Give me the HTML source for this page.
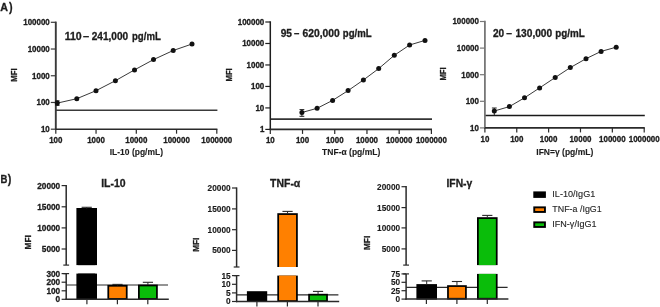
<!DOCTYPE html>
<html><head><meta charset="utf-8"><style>
html,body{margin:0;padding:0;background:#fff;width:660px;height:307px;overflow:hidden;}
svg{display:block;font-family:"Liberation Sans",sans-serif;will-change:transform;}
</style></head><body>
<svg width="660" height="307" viewBox="0 0 660 307">
<rect width="660" height="307" fill="#fff"/>
<text x="0.30" y="10.90" font-size="11.8" font-weight="bold" text-anchor="start" fill="#1c1c1c" font-family="Liberation Sans" stroke="#1c1c1c" stroke-width="0.35" textLength="7.7" lengthAdjust="spacingAndGlyphs" >A</text>
<text x="9.00" y="11.00" font-size="13.0" font-weight="bold" text-anchor="start" fill="#1c1c1c" font-family="Liberation Sans" stroke="#1c1c1c" stroke-width="0.3" textLength="3.6" lengthAdjust="spacingAndGlyphs" >)</text>
<text x="0.40" y="182.60" font-size="11.8" font-weight="bold" text-anchor="start" fill="#1c1c1c" font-family="Liberation Sans" stroke="#1c1c1c" stroke-width="0.35" textLength="6.9" lengthAdjust="spacingAndGlyphs" >B</text>
<text x="7.80" y="182.50" font-size="13.0" font-weight="bold" text-anchor="start" fill="#1c1c1c" font-family="Liberation Sans" stroke="#1c1c1c" stroke-width="0.3" textLength="3.6" lengthAdjust="spacingAndGlyphs" >)</text>
<line x1="55.80" y1="110.20" x2="217.40" y2="110.20" stroke="#3a3a3a" stroke-width="1.5" stroke-linecap="butt"/>
<line x1="55.80" y1="21.60" x2="55.80" y2="129.20" stroke="#3a3a3a" stroke-width="1.9" stroke-linecap="butt"/>
<line x1="55.10" y1="129.20" x2="217.40" y2="129.20" stroke="#2a2a2a" stroke-width="1.6" stroke-linecap="butt"/>
<line x1="50.80" y1="22.30" x2="55.80" y2="22.30" stroke="#3a3a3a" stroke-width="1.2" stroke-linecap="butt"/>
<text x="49.80" y="25.20" font-size="8.3" font-weight="bold" text-anchor="end" fill="#1c1c1c" font-family="Liberation Sans" stroke="#1c1c1c" stroke-width="0.3" textLength="26.52" lengthAdjust="spacingAndGlyphs" >100000</text>
<line x1="50.80" y1="49.02" x2="55.80" y2="49.02" stroke="#3a3a3a" stroke-width="1.2" stroke-linecap="butt"/>
<text x="49.80" y="51.92" font-size="8.3" font-weight="bold" text-anchor="end" fill="#1c1c1c" font-family="Liberation Sans" stroke="#1c1c1c" stroke-width="0.3" textLength="22.1" lengthAdjust="spacingAndGlyphs" >10000</text>
<line x1="50.80" y1="75.75" x2="55.80" y2="75.75" stroke="#3a3a3a" stroke-width="1.2" stroke-linecap="butt"/>
<text x="49.80" y="78.65" font-size="8.3" font-weight="bold" text-anchor="end" fill="#1c1c1c" font-family="Liberation Sans" stroke="#1c1c1c" stroke-width="0.3" textLength="17.68" lengthAdjust="spacingAndGlyphs" >1000</text>
<line x1="50.80" y1="102.47" x2="55.80" y2="102.47" stroke="#3a3a3a" stroke-width="1.2" stroke-linecap="butt"/>
<text x="49.80" y="105.38" font-size="8.3" font-weight="bold" text-anchor="end" fill="#1c1c1c" font-family="Liberation Sans" stroke="#1c1c1c" stroke-width="0.3" textLength="13.26" lengthAdjust="spacingAndGlyphs" >100</text>
<line x1="50.80" y1="129.20" x2="55.80" y2="129.20" stroke="#3a3a3a" stroke-width="1.2" stroke-linecap="butt"/>
<text x="49.80" y="132.10" font-size="8.3" font-weight="bold" text-anchor="end" fill="#1c1c1c" font-family="Liberation Sans" stroke="#1c1c1c" stroke-width="0.3" textLength="8.84" lengthAdjust="spacingAndGlyphs" >10</text>
<line x1="55.80" y1="129.20" x2="55.80" y2="133.70" stroke="#2a2a2a" stroke-width="1.2" stroke-linecap="butt"/>
<text x="55.80" y="142.80" font-size="8.3" font-weight="bold" text-anchor="middle" fill="#1c1c1c" font-family="Liberation Sans" stroke="#1c1c1c" stroke-width="0.3" textLength="13.26" lengthAdjust="spacingAndGlyphs" >100</text>
<line x1="96.05" y1="129.20" x2="96.05" y2="133.70" stroke="#2a2a2a" stroke-width="1.2" stroke-linecap="butt"/>
<text x="96.05" y="142.80" font-size="8.3" font-weight="bold" text-anchor="middle" fill="#1c1c1c" font-family="Liberation Sans" stroke="#1c1c1c" stroke-width="0.3" textLength="17.68" lengthAdjust="spacingAndGlyphs" >1000</text>
<line x1="136.30" y1="129.20" x2="136.30" y2="133.70" stroke="#2a2a2a" stroke-width="1.2" stroke-linecap="butt"/>
<text x="136.30" y="142.80" font-size="8.3" font-weight="bold" text-anchor="middle" fill="#1c1c1c" font-family="Liberation Sans" stroke="#1c1c1c" stroke-width="0.3" textLength="22.1" lengthAdjust="spacingAndGlyphs" >10000</text>
<line x1="176.55" y1="129.20" x2="176.55" y2="133.70" stroke="#2a2a2a" stroke-width="1.2" stroke-linecap="butt"/>
<text x="176.55" y="142.80" font-size="8.3" font-weight="bold" text-anchor="middle" fill="#1c1c1c" font-family="Liberation Sans" stroke="#1c1c1c" stroke-width="0.3" textLength="26.52" lengthAdjust="spacingAndGlyphs" >100000</text>
<line x1="216.80" y1="129.20" x2="216.80" y2="133.70" stroke="#2a2a2a" stroke-width="1.2" stroke-linecap="butt"/>
<text x="216.80" y="142.80" font-size="8.3" font-weight="bold" text-anchor="middle" fill="#1c1c1c" font-family="Liberation Sans" stroke="#1c1c1c" stroke-width="0.3" textLength="30.94" lengthAdjust="spacingAndGlyphs" >1000000</text>
<line x1="57.30" y1="100.80" x2="57.30" y2="105.40" stroke="#222" stroke-width="1.0" stroke-linecap="butt"/>
<line x1="55.10" y1="100.80" x2="59.50" y2="100.80" stroke="#222" stroke-width="1.0" stroke-linecap="butt"/>
<line x1="55.10" y1="105.40" x2="59.50" y2="105.40" stroke="#222" stroke-width="1.0" stroke-linecap="butt"/>
<polyline points="57.30,103.10 76.80,98.70 96.00,90.70 115.40,80.70 134.50,69.90 153.50,59.60 173.20,50.50 192.00,44.00" fill="none" stroke="#222" stroke-width="0.9" stroke-linejoin="round"/>
<circle cx="57.30" cy="103.10" r="2.5" fill="#111"/>
<circle cx="76.80" cy="98.70" r="2.5" fill="#111"/>
<circle cx="96.00" cy="90.70" r="2.5" fill="#111"/>
<circle cx="115.40" cy="80.70" r="2.5" fill="#111"/>
<circle cx="134.50" cy="69.90" r="2.5" fill="#111"/>
<circle cx="153.50" cy="59.60" r="2.5" fill="#111"/>
<circle cx="173.20" cy="50.50" r="2.5" fill="#111"/>
<circle cx="192.00" cy="44.00" r="2.5" fill="#111"/>
<text x="64.70" y="39.80" font-size="10.2" font-weight="bold" text-anchor="start" fill="#1c1c1c" font-family="Liberation Sans" stroke="#1c1c1c" stroke-width="0.3" textLength="17.0" lengthAdjust="spacingAndGlyphs" >110</text>
<text x="82.90" y="39.80" font-size="10.2" font-weight="bold" text-anchor="start" fill="#1c1c1c" font-family="Liberation Sans" stroke="#1c1c1c" stroke-width="0.3" textLength="6.1" lengthAdjust="spacingAndGlyphs" >–</text>
<text x="91.70" y="39.80" font-size="10.2" font-weight="bold" text-anchor="start" fill="#1c1c1c" font-family="Liberation Sans" stroke="#1c1c1c" stroke-width="0.3" textLength="36.4" lengthAdjust="spacingAndGlyphs" >241,000</text>
<text x="132.00" y="39.80" font-size="10.2" font-weight="bold" text-anchor="start" fill="#1c1c1c" font-family="Liberation Sans" stroke="#1c1c1c" stroke-width="0.3" textLength="28.8" lengthAdjust="spacingAndGlyphs" >pg/mL</text>
<text x="136.40" y="155.40" font-size="8.6" font-weight="bold" text-anchor="middle" fill="#1c1c1c" font-family="Liberation Sans" stroke="#1c1c1c" stroke-width="0.1" textLength="53.3" lengthAdjust="spacingAndGlyphs" >IL-10 (pg/mL)</text>
<text x="16.90" y="75.00" font-size="8.8" font-weight="bold" text-anchor="middle" fill="#1c1c1c" font-family="Liberation Sans" stroke="#1c1c1c" stroke-width="0.3" textLength="13.3" lengthAdjust="spacingAndGlyphs" transform="rotate(-90 16.90 75.00)" >MFI</text>
<line x1="270.30" y1="119.10" x2="432.00" y2="119.10" stroke="#333" stroke-width="1.6" stroke-linecap="butt"/>
<line x1="270.30" y1="21.30" x2="270.30" y2="129.40" stroke="#1e1e1e" stroke-width="1.5" stroke-linecap="butt"/>
<line x1="269.60" y1="129.40" x2="432.00" y2="129.40" stroke="#2a2a2a" stroke-width="1.6" stroke-linecap="butt"/>
<line x1="265.30" y1="22.00" x2="270.30" y2="22.00" stroke="#1e1e1e" stroke-width="1.2" stroke-linecap="butt"/>
<text x="264.30" y="24.90" font-size="8.3" font-weight="bold" text-anchor="end" fill="#1c1c1c" font-family="Liberation Sans" stroke="#1c1c1c" stroke-width="0.3" textLength="26.52" lengthAdjust="spacingAndGlyphs" >100000</text>
<line x1="265.30" y1="43.48" x2="270.30" y2="43.48" stroke="#1e1e1e" stroke-width="1.2" stroke-linecap="butt"/>
<text x="264.30" y="46.38" font-size="8.3" font-weight="bold" text-anchor="end" fill="#1c1c1c" font-family="Liberation Sans" stroke="#1c1c1c" stroke-width="0.3" textLength="22.1" lengthAdjust="spacingAndGlyphs" >10000</text>
<line x1="265.30" y1="64.96" x2="270.30" y2="64.96" stroke="#1e1e1e" stroke-width="1.2" stroke-linecap="butt"/>
<text x="264.30" y="67.86" font-size="8.3" font-weight="bold" text-anchor="end" fill="#1c1c1c" font-family="Liberation Sans" stroke="#1c1c1c" stroke-width="0.3" textLength="17.68" lengthAdjust="spacingAndGlyphs" >1000</text>
<line x1="265.30" y1="86.44" x2="270.30" y2="86.44" stroke="#1e1e1e" stroke-width="1.2" stroke-linecap="butt"/>
<text x="264.30" y="89.34" font-size="8.3" font-weight="bold" text-anchor="end" fill="#1c1c1c" font-family="Liberation Sans" stroke="#1c1c1c" stroke-width="0.3" textLength="13.26" lengthAdjust="spacingAndGlyphs" >100</text>
<line x1="265.30" y1="107.92" x2="270.30" y2="107.92" stroke="#1e1e1e" stroke-width="1.2" stroke-linecap="butt"/>
<text x="264.30" y="110.82" font-size="8.3" font-weight="bold" text-anchor="end" fill="#1c1c1c" font-family="Liberation Sans" stroke="#1c1c1c" stroke-width="0.3" textLength="8.84" lengthAdjust="spacingAndGlyphs" >10</text>
<line x1="265.30" y1="129.40" x2="270.30" y2="129.40" stroke="#1e1e1e" stroke-width="1.2" stroke-linecap="butt"/>
<text x="264.30" y="132.30" font-size="8.3" font-weight="bold" text-anchor="end" fill="#1c1c1c" font-family="Liberation Sans" stroke="#1c1c1c" stroke-width="0.3" textLength="4.42" lengthAdjust="spacingAndGlyphs" >1</text>
<line x1="270.30" y1="129.40" x2="270.30" y2="133.90" stroke="#2a2a2a" stroke-width="1.2" stroke-linecap="butt"/>
<text x="270.30" y="143.00" font-size="8.3" font-weight="bold" text-anchor="middle" fill="#1c1c1c" font-family="Liberation Sans" stroke="#1c1c1c" stroke-width="0.3" textLength="8.84" lengthAdjust="spacingAndGlyphs" >10</text>
<line x1="302.52" y1="129.40" x2="302.52" y2="133.90" stroke="#2a2a2a" stroke-width="1.2" stroke-linecap="butt"/>
<text x="302.52" y="143.00" font-size="8.3" font-weight="bold" text-anchor="middle" fill="#1c1c1c" font-family="Liberation Sans" stroke="#1c1c1c" stroke-width="0.3" textLength="13.26" lengthAdjust="spacingAndGlyphs" >100</text>
<line x1="334.74" y1="129.40" x2="334.74" y2="133.90" stroke="#2a2a2a" stroke-width="1.2" stroke-linecap="butt"/>
<text x="334.74" y="143.00" font-size="8.3" font-weight="bold" text-anchor="middle" fill="#1c1c1c" font-family="Liberation Sans" stroke="#1c1c1c" stroke-width="0.3" textLength="17.68" lengthAdjust="spacingAndGlyphs" >1000</text>
<line x1="366.96" y1="129.40" x2="366.96" y2="133.90" stroke="#2a2a2a" stroke-width="1.2" stroke-linecap="butt"/>
<text x="366.96" y="143.00" font-size="8.3" font-weight="bold" text-anchor="middle" fill="#1c1c1c" font-family="Liberation Sans" stroke="#1c1c1c" stroke-width="0.3" textLength="22.1" lengthAdjust="spacingAndGlyphs" >10000</text>
<line x1="399.18" y1="129.40" x2="399.18" y2="133.90" stroke="#2a2a2a" stroke-width="1.2" stroke-linecap="butt"/>
<text x="399.18" y="143.00" font-size="8.3" font-weight="bold" text-anchor="middle" fill="#1c1c1c" font-family="Liberation Sans" stroke="#1c1c1c" stroke-width="0.3" textLength="26.52" lengthAdjust="spacingAndGlyphs" >100000</text>
<line x1="431.40" y1="129.40" x2="431.40" y2="133.90" stroke="#2a2a2a" stroke-width="1.2" stroke-linecap="butt"/>
<text x="431.40" y="143.00" font-size="8.3" font-weight="bold" text-anchor="middle" fill="#1c1c1c" font-family="Liberation Sans" stroke="#1c1c1c" stroke-width="0.3" textLength="30.94" lengthAdjust="spacingAndGlyphs" >1000000</text>
<line x1="301.90" y1="109.60" x2="301.90" y2="116.30" stroke="#222" stroke-width="1.0" stroke-linecap="butt"/>
<line x1="299.50" y1="109.60" x2="304.30" y2="109.60" stroke="#222" stroke-width="1.0" stroke-linecap="butt"/>
<line x1="299.50" y1="116.30" x2="304.30" y2="116.30" stroke="#222" stroke-width="1.0" stroke-linecap="butt"/>
<polyline points="301.90,112.50 317.10,108.30 332.60,100.40 348.10,90.60 363.40,80.00 378.70,68.60 394.30,55.30 409.60,45.00 425.00,40.40" fill="none" stroke="#222" stroke-width="0.9" stroke-linejoin="round"/>
<circle cx="301.90" cy="112.50" r="2.5" fill="#111"/>
<circle cx="317.10" cy="108.30" r="2.5" fill="#111"/>
<circle cx="332.60" cy="100.40" r="2.5" fill="#111"/>
<circle cx="348.10" cy="90.60" r="2.5" fill="#111"/>
<circle cx="363.40" cy="80.00" r="2.5" fill="#111"/>
<circle cx="378.70" cy="68.60" r="2.5" fill="#111"/>
<circle cx="394.30" cy="55.30" r="2.5" fill="#111"/>
<circle cx="409.60" cy="45.00" r="2.5" fill="#111"/>
<circle cx="425.00" cy="40.40" r="2.5" fill="#111"/>
<text x="280.70" y="36.50" font-size="10.2" font-weight="bold" text-anchor="start" fill="#1c1c1c" font-family="Liberation Sans" stroke="#1c1c1c" stroke-width="0.3" textLength="11.3" lengthAdjust="spacingAndGlyphs" >95</text>
<text x="293.90" y="36.50" font-size="10.2" font-weight="bold" text-anchor="start" fill="#1c1c1c" font-family="Liberation Sans" stroke="#1c1c1c" stroke-width="0.3" textLength="5.3" lengthAdjust="spacingAndGlyphs" >–</text>
<text x="302.60" y="36.50" font-size="10.2" font-weight="bold" text-anchor="start" fill="#1c1c1c" font-family="Liberation Sans" stroke="#1c1c1c" stroke-width="0.3" textLength="37.2" lengthAdjust="spacingAndGlyphs" >620,000</text>
<text x="342.80" y="36.50" font-size="10.2" font-weight="bold" text-anchor="start" fill="#1c1c1c" font-family="Liberation Sans" stroke="#1c1c1c" stroke-width="0.3" textLength="28.8" lengthAdjust="spacingAndGlyphs" >pg/mL</text>
<text x="351.20" y="155.30" font-size="8.6" font-weight="bold" text-anchor="middle" fill="#1c1c1c" font-family="Liberation Sans" stroke="#1c1c1c" stroke-width="0.1" textLength="58.2" lengthAdjust="spacingAndGlyphs" >TNF-α (pg/mL)</text>
<text x="231.90" y="74.90" font-size="8.8" font-weight="bold" text-anchor="middle" fill="#1c1c1c" font-family="Liberation Sans" stroke="#1c1c1c" stroke-width="0.3" textLength="13.3" lengthAdjust="spacingAndGlyphs" transform="rotate(-90 231.90 74.90)" >MFI</text>
<line x1="484.90" y1="115.50" x2="644.80" y2="115.50" stroke="#1a1a1a" stroke-width="1.5" stroke-linecap="butt"/>
<line x1="484.90" y1="20.80" x2="484.90" y2="127.90" stroke="#777" stroke-width="1.8" stroke-linecap="butt"/>
<line x1="484.20" y1="127.90" x2="644.80" y2="127.90" stroke="#2a2a2a" stroke-width="1.6" stroke-linecap="butt"/>
<line x1="479.90" y1="21.50" x2="484.90" y2="21.50" stroke="#777" stroke-width="1.2" stroke-linecap="butt"/>
<text x="478.90" y="24.40" font-size="8.3" font-weight="bold" text-anchor="end" fill="#1c1c1c" font-family="Liberation Sans" stroke="#1c1c1c" stroke-width="0.3" textLength="26.52" lengthAdjust="spacingAndGlyphs" >100000</text>
<line x1="479.90" y1="48.10" x2="484.90" y2="48.10" stroke="#777" stroke-width="1.2" stroke-linecap="butt"/>
<text x="478.90" y="51.00" font-size="8.3" font-weight="bold" text-anchor="end" fill="#1c1c1c" font-family="Liberation Sans" stroke="#1c1c1c" stroke-width="0.3" textLength="22.1" lengthAdjust="spacingAndGlyphs" >10000</text>
<line x1="479.90" y1="74.70" x2="484.90" y2="74.70" stroke="#777" stroke-width="1.2" stroke-linecap="butt"/>
<text x="478.90" y="77.60" font-size="8.3" font-weight="bold" text-anchor="end" fill="#1c1c1c" font-family="Liberation Sans" stroke="#1c1c1c" stroke-width="0.3" textLength="17.68" lengthAdjust="spacingAndGlyphs" >1000</text>
<line x1="479.90" y1="101.30" x2="484.90" y2="101.30" stroke="#777" stroke-width="1.2" stroke-linecap="butt"/>
<text x="478.90" y="104.20" font-size="8.3" font-weight="bold" text-anchor="end" fill="#1c1c1c" font-family="Liberation Sans" stroke="#1c1c1c" stroke-width="0.3" textLength="13.26" lengthAdjust="spacingAndGlyphs" >100</text>
<line x1="479.90" y1="127.90" x2="484.90" y2="127.90" stroke="#777" stroke-width="1.2" stroke-linecap="butt"/>
<text x="478.90" y="130.80" font-size="8.3" font-weight="bold" text-anchor="end" fill="#1c1c1c" font-family="Liberation Sans" stroke="#1c1c1c" stroke-width="0.3" textLength="8.84" lengthAdjust="spacingAndGlyphs" >10</text>
<line x1="484.90" y1="127.90" x2="484.90" y2="132.40" stroke="#2a2a2a" stroke-width="1.2" stroke-linecap="butt"/>
<text x="484.90" y="141.50" font-size="8.3" font-weight="bold" text-anchor="middle" fill="#1c1c1c" font-family="Liberation Sans" stroke="#1c1c1c" stroke-width="0.3" textLength="8.84" lengthAdjust="spacingAndGlyphs" >10</text>
<line x1="516.76" y1="127.90" x2="516.76" y2="132.40" stroke="#2a2a2a" stroke-width="1.2" stroke-linecap="butt"/>
<text x="516.76" y="141.50" font-size="8.3" font-weight="bold" text-anchor="middle" fill="#1c1c1c" font-family="Liberation Sans" stroke="#1c1c1c" stroke-width="0.3" textLength="13.26" lengthAdjust="spacingAndGlyphs" >100</text>
<line x1="548.62" y1="127.90" x2="548.62" y2="132.40" stroke="#2a2a2a" stroke-width="1.2" stroke-linecap="butt"/>
<text x="548.62" y="141.50" font-size="8.3" font-weight="bold" text-anchor="middle" fill="#1c1c1c" font-family="Liberation Sans" stroke="#1c1c1c" stroke-width="0.3" textLength="17.68" lengthAdjust="spacingAndGlyphs" >1000</text>
<line x1="580.48" y1="127.90" x2="580.48" y2="132.40" stroke="#2a2a2a" stroke-width="1.2" stroke-linecap="butt"/>
<text x="580.48" y="141.50" font-size="8.3" font-weight="bold" text-anchor="middle" fill="#1c1c1c" font-family="Liberation Sans" stroke="#1c1c1c" stroke-width="0.3" textLength="22.1" lengthAdjust="spacingAndGlyphs" >10000</text>
<line x1="612.34" y1="127.90" x2="612.34" y2="132.40" stroke="#2a2a2a" stroke-width="1.2" stroke-linecap="butt"/>
<text x="612.34" y="141.50" font-size="8.3" font-weight="bold" text-anchor="middle" fill="#1c1c1c" font-family="Liberation Sans" stroke="#1c1c1c" stroke-width="0.3" textLength="26.52" lengthAdjust="spacingAndGlyphs" >100000</text>
<line x1="644.20" y1="127.90" x2="644.20" y2="132.40" stroke="#2a2a2a" stroke-width="1.2" stroke-linecap="butt"/>
<text x="644.20" y="141.50" font-size="8.3" font-weight="bold" text-anchor="middle" fill="#1c1c1c" font-family="Liberation Sans" stroke="#1c1c1c" stroke-width="0.3" textLength="30.94" lengthAdjust="spacingAndGlyphs" >1000000</text>
<line x1="494.30" y1="108.00" x2="494.30" y2="115.00" stroke="#222" stroke-width="1.0" stroke-linecap="butt"/>
<line x1="491.90" y1="108.00" x2="496.70" y2="108.00" stroke="#222" stroke-width="1.0" stroke-linecap="butt"/>
<polyline points="494.30,111.00 509.40,106.60 524.50,97.80 539.60,87.90 555.20,77.50 570.30,67.60 586.00,58.70 601.10,51.40 616.20,47.20" fill="none" stroke="#222" stroke-width="0.9" stroke-linejoin="round"/>
<circle cx="494.30" cy="111.00" r="2.5" fill="#111"/>
<circle cx="509.40" cy="106.60" r="2.5" fill="#111"/>
<circle cx="524.50" cy="97.80" r="2.5" fill="#111"/>
<circle cx="539.60" cy="87.90" r="2.5" fill="#111"/>
<circle cx="555.20" cy="77.50" r="2.5" fill="#111"/>
<circle cx="570.30" cy="67.60" r="2.5" fill="#111"/>
<circle cx="586.00" cy="58.70" r="2.5" fill="#111"/>
<circle cx="601.10" cy="51.40" r="2.5" fill="#111"/>
<circle cx="616.20" cy="47.20" r="2.5" fill="#111"/>
<text x="493.00" y="36.70" font-size="10.2" font-weight="bold" text-anchor="start" fill="#1c1c1c" font-family="Liberation Sans" stroke="#1c1c1c" stroke-width="0.3" textLength="11.2" lengthAdjust="spacingAndGlyphs" >20</text>
<text x="506.30" y="36.70" font-size="10.2" font-weight="bold" text-anchor="start" fill="#1c1c1c" font-family="Liberation Sans" stroke="#1c1c1c" stroke-width="0.3" textLength="5.7" lengthAdjust="spacingAndGlyphs" >–</text>
<text x="515.40" y="36.70" font-size="10.2" font-weight="bold" text-anchor="start" fill="#1c1c1c" font-family="Liberation Sans" stroke="#1c1c1c" stroke-width="0.3" textLength="36.8" lengthAdjust="spacingAndGlyphs" >130,000</text>
<text x="555.20" y="36.70" font-size="10.2" font-weight="bold" text-anchor="start" fill="#1c1c1c" font-family="Liberation Sans" stroke="#1c1c1c" stroke-width="0.3" textLength="29.5" lengthAdjust="spacingAndGlyphs" >pg/mL</text>
<text x="564.80" y="155.30" font-size="8.6" font-weight="bold" text-anchor="middle" fill="#1c1c1c" font-family="Liberation Sans" stroke="#1c1c1c" stroke-width="0.1" textLength="57.0" lengthAdjust="spacingAndGlyphs" >IFN=γ (pg/mL)</text>
<text x="446.30" y="73.90" font-size="8.8" font-weight="bold" text-anchor="middle" fill="#1c1c1c" font-family="Liberation Sans" stroke="#1c1c1c" stroke-width="0.3" textLength="13.3" lengthAdjust="spacingAndGlyphs" transform="rotate(-90 446.30 73.90)" >MFI</text>
<line x1="66.20" y1="285.00" x2="168.00" y2="285.00" stroke="#2a2a2a" stroke-width="1.2" stroke-linecap="butt"/>
<rect x="107.40" y="284.90" width="20.20" height="14.90" fill="#000"/>
<rect x="109.15" y="286.65" width="16.70" height="11.40" fill="#ff8000"/>
<line x1="117.50" y1="284.40" x2="117.50" y2="285.40" stroke="#2a2a2a" stroke-width="1.0" stroke-linecap="butt"/>
<line x1="112.40" y1="284.40" x2="122.60" y2="284.40" stroke="#2a2a2a" stroke-width="1.1" stroke-linecap="butt"/>
<rect x="138.00" y="284.60" width="19.80" height="15.20" fill="#000"/>
<rect x="139.75" y="286.35" width="16.30" height="11.70" fill="#0abd0a"/>
<line x1="147.90" y1="282.30" x2="147.90" y2="285.10" stroke="#2a2a2a" stroke-width="1.0" stroke-linecap="butt"/>
<line x1="142.80" y1="282.30" x2="153.00" y2="282.30" stroke="#2a2a2a" stroke-width="1.1" stroke-linecap="butt"/>
<rect x="76.40" y="208.00" width="20.60" height="57.10" fill="#000"/>
<rect x="78.15" y="209.75" width="17.10" height="55.35" fill="#000000"/>
<rect x="76.40" y="273.60" width="20.60" height="26.20" fill="#000"/>
<rect x="78.15" y="273.60" width="17.10" height="24.45" fill="#000000"/>
<line x1="86.70" y1="207.30" x2="86.70" y2="208.50" stroke="#2a2a2a" stroke-width="1.0" stroke-linecap="butt"/>
<line x1="81.60" y1="207.30" x2="91.80" y2="207.30" stroke="#2a2a2a" stroke-width="1.1" stroke-linecap="butt"/>
<line x1="66.20" y1="185.00" x2="66.20" y2="265.10" stroke="#2a2a2a" stroke-width="1.5" stroke-linecap="butt"/>
<line x1="63.30" y1="265.10" x2="69.10" y2="265.10" stroke="#2a2a2a" stroke-width="1.2" stroke-linecap="butt"/>
<line x1="61.60" y1="185.60" x2="66.20" y2="185.60" stroke="#2a2a2a" stroke-width="1.2" stroke-linecap="butt"/>
<text x="60.20" y="188.50" font-size="8.6" font-weight="bold" text-anchor="end" fill="#1c1c1c" font-family="Liberation Sans" stroke="#1c1c1c" stroke-width="0.3" textLength="23.0" lengthAdjust="spacingAndGlyphs" >20000</text>
<line x1="61.60" y1="206.80" x2="66.20" y2="206.80" stroke="#2a2a2a" stroke-width="1.2" stroke-linecap="butt"/>
<text x="60.20" y="209.70" font-size="8.6" font-weight="bold" text-anchor="end" fill="#1c1c1c" font-family="Liberation Sans" stroke="#1c1c1c" stroke-width="0.3" textLength="23.0" lengthAdjust="spacingAndGlyphs" >15000</text>
<line x1="61.60" y1="227.90" x2="66.20" y2="227.90" stroke="#2a2a2a" stroke-width="1.2" stroke-linecap="butt"/>
<text x="60.20" y="230.80" font-size="8.6" font-weight="bold" text-anchor="end" fill="#1c1c1c" font-family="Liberation Sans" stroke="#1c1c1c" stroke-width="0.3" textLength="23.0" lengthAdjust="spacingAndGlyphs" >10000</text>
<line x1="61.60" y1="249.00" x2="66.20" y2="249.00" stroke="#2a2a2a" stroke-width="1.2" stroke-linecap="butt"/>
<text x="60.20" y="251.90" font-size="8.6" font-weight="bold" text-anchor="end" fill="#1c1c1c" font-family="Liberation Sans" stroke="#1c1c1c" stroke-width="0.3" textLength="18.4" lengthAdjust="spacingAndGlyphs" >5000</text>
<line x1="66.20" y1="273.60" x2="66.20" y2="300.00" stroke="#2a2a2a" stroke-width="1.5" stroke-linecap="butt"/>
<line x1="63.30" y1="273.60" x2="69.10" y2="273.60" stroke="#2a2a2a" stroke-width="1.2" stroke-linecap="butt"/>
<line x1="61.60" y1="273.60" x2="66.20" y2="273.60" stroke="#2a2a2a" stroke-width="1.2" stroke-linecap="butt"/>
<text x="60.20" y="276.50" font-size="8.6" font-weight="bold" text-anchor="end" fill="#1c1c1c" font-family="Liberation Sans" stroke="#1c1c1c" stroke-width="0.3" textLength="13.8" lengthAdjust="spacingAndGlyphs" >300</text>
<line x1="61.60" y1="282.20" x2="66.20" y2="282.20" stroke="#2a2a2a" stroke-width="1.2" stroke-linecap="butt"/>
<text x="60.20" y="285.10" font-size="8.6" font-weight="bold" text-anchor="end" fill="#1c1c1c" font-family="Liberation Sans" stroke="#1c1c1c" stroke-width="0.3" textLength="13.8" lengthAdjust="spacingAndGlyphs" >200</text>
<line x1="61.60" y1="290.80" x2="66.20" y2="290.80" stroke="#2a2a2a" stroke-width="1.2" stroke-linecap="butt"/>
<text x="60.20" y="293.70" font-size="8.6" font-weight="bold" text-anchor="end" fill="#1c1c1c" font-family="Liberation Sans" stroke="#1c1c1c" stroke-width="0.3" textLength="13.8" lengthAdjust="spacingAndGlyphs" >100</text>
<line x1="61.60" y1="299.30" x2="66.20" y2="299.30" stroke="#2a2a2a" stroke-width="1.2" stroke-linecap="butt"/>
<text x="60.20" y="302.20" font-size="8.6" font-weight="bold" text-anchor="end" fill="#1c1c1c" font-family="Liberation Sans" stroke="#1c1c1c" stroke-width="0.3" textLength="4.6" lengthAdjust="spacingAndGlyphs" >0</text>
<line x1="65.50" y1="299.30" x2="168.80" y2="299.30" stroke="#2a2a2a" stroke-width="1.5" stroke-linecap="butt"/>
<line x1="86.90" y1="299.30" x2="86.90" y2="304.30" stroke="#2a2a2a" stroke-width="1.2" stroke-linecap="butt"/>
<line x1="117.40" y1="299.30" x2="117.40" y2="304.30" stroke="#2a2a2a" stroke-width="1.2" stroke-linecap="butt"/>
<line x1="147.80" y1="299.30" x2="147.80" y2="304.30" stroke="#2a2a2a" stroke-width="1.2" stroke-linecap="butt"/>
<text x="113.40" y="186.90" font-size="10.5" font-weight="bold" text-anchor="middle" fill="#1c1c1c" font-family="Liberation Sans" stroke="#1c1c1c" stroke-width="0.3" textLength="24.4" lengthAdjust="spacingAndGlyphs" >IL-10</text>
<text x="31.30" y="242.30" font-size="9.0" font-weight="bold" text-anchor="middle" fill="#1c1c1c" font-family="Liberation Sans" stroke="#1c1c1c" stroke-width="0.3" textLength="14.2" lengthAdjust="spacingAndGlyphs" transform="rotate(-90 31.30 242.30)" >MFI</text>
<line x1="236.60" y1="294.80" x2="338.40" y2="294.80" stroke="#2a2a2a" stroke-width="1.2" stroke-linecap="butt"/>
<rect x="246.90" y="291.20" width="20.30" height="10.80" fill="#000"/>
<rect x="248.65" y="292.95" width="16.80" height="7.30" fill="#000000"/>
<rect x="308.20" y="293.80" width="19.70" height="8.20" fill="#000"/>
<rect x="309.95" y="295.55" width="16.20" height="4.70" fill="#0abd0a"/>
<line x1="318.05" y1="291.40" x2="318.05" y2="294.30" stroke="#2a2a2a" stroke-width="1.0" stroke-linecap="butt"/>
<line x1="312.95" y1="291.40" x2="323.15" y2="291.40" stroke="#2a2a2a" stroke-width="1.1" stroke-linecap="butt"/>
<rect x="277.30" y="213.20" width="20.50" height="53.80" fill="#000"/>
<rect x="279.05" y="214.95" width="17.00" height="52.05" fill="#ff8000"/>
<rect x="277.30" y="275.60" width="20.50" height="26.40" fill="#000"/>
<rect x="279.05" y="275.60" width="17.00" height="24.65" fill="#ff8000"/>
<line x1="287.55" y1="211.40" x2="287.55" y2="213.70" stroke="#2a2a2a" stroke-width="1.0" stroke-linecap="butt"/>
<line x1="282.45" y1="211.40" x2="292.65" y2="211.40" stroke="#2a2a2a" stroke-width="1.1" stroke-linecap="butt"/>
<line x1="236.60" y1="187.40" x2="236.60" y2="267.00" stroke="#2a2a2a" stroke-width="1.5" stroke-linecap="butt"/>
<line x1="233.70" y1="267.00" x2="239.50" y2="267.00" stroke="#2a2a2a" stroke-width="1.2" stroke-linecap="butt"/>
<line x1="232.00" y1="188.00" x2="236.60" y2="188.00" stroke="#2a2a2a" stroke-width="1.2" stroke-linecap="butt"/>
<text x="230.60" y="190.90" font-size="8.6" font-weight="bold" text-anchor="end" fill="#1c1c1c" font-family="Liberation Sans" stroke="#1c1c1c" stroke-width="0.15" textLength="23.0" lengthAdjust="spacingAndGlyphs" >20000</text>
<line x1="232.00" y1="208.90" x2="236.60" y2="208.90" stroke="#2a2a2a" stroke-width="1.2" stroke-linecap="butt"/>
<text x="230.60" y="211.80" font-size="8.6" font-weight="bold" text-anchor="end" fill="#1c1c1c" font-family="Liberation Sans" stroke="#1c1c1c" stroke-width="0.15" textLength="23.0" lengthAdjust="spacingAndGlyphs" >15000</text>
<line x1="232.00" y1="229.70" x2="236.60" y2="229.70" stroke="#2a2a2a" stroke-width="1.2" stroke-linecap="butt"/>
<text x="230.60" y="232.60" font-size="8.6" font-weight="bold" text-anchor="end" fill="#1c1c1c" font-family="Liberation Sans" stroke="#1c1c1c" stroke-width="0.15" textLength="23.0" lengthAdjust="spacingAndGlyphs" >10000</text>
<line x1="232.00" y1="250.40" x2="236.60" y2="250.40" stroke="#2a2a2a" stroke-width="1.2" stroke-linecap="butt"/>
<text x="230.60" y="253.30" font-size="8.6" font-weight="bold" text-anchor="end" fill="#1c1c1c" font-family="Liberation Sans" stroke="#1c1c1c" stroke-width="0.15" textLength="18.4" lengthAdjust="spacingAndGlyphs" >5000</text>
<line x1="236.60" y1="275.60" x2="236.60" y2="302.20" stroke="#2a2a2a" stroke-width="1.5" stroke-linecap="butt"/>
<line x1="233.70" y1="275.60" x2="239.50" y2="275.60" stroke="#2a2a2a" stroke-width="1.2" stroke-linecap="butt"/>
<line x1="232.00" y1="275.60" x2="236.60" y2="275.60" stroke="#2a2a2a" stroke-width="1.2" stroke-linecap="butt"/>
<text x="230.60" y="278.50" font-size="8.6" font-weight="bold" text-anchor="end" fill="#1c1c1c" font-family="Liberation Sans" stroke="#1c1c1c" stroke-width="0.15" textLength="9.2" lengthAdjust="spacingAndGlyphs" >15</text>
<line x1="232.00" y1="284.30" x2="236.60" y2="284.30" stroke="#2a2a2a" stroke-width="1.2" stroke-linecap="butt"/>
<text x="230.60" y="287.20" font-size="8.6" font-weight="bold" text-anchor="end" fill="#1c1c1c" font-family="Liberation Sans" stroke="#1c1c1c" stroke-width="0.15" textLength="9.2" lengthAdjust="spacingAndGlyphs" >10</text>
<line x1="232.00" y1="292.90" x2="236.60" y2="292.90" stroke="#2a2a2a" stroke-width="1.2" stroke-linecap="butt"/>
<text x="230.60" y="295.80" font-size="8.6" font-weight="bold" text-anchor="end" fill="#1c1c1c" font-family="Liberation Sans" stroke="#1c1c1c" stroke-width="0.15" textLength="4.6" lengthAdjust="spacingAndGlyphs" >5</text>
<line x1="232.00" y1="301.50" x2="236.60" y2="301.50" stroke="#2a2a2a" stroke-width="1.2" stroke-linecap="butt"/>
<text x="230.60" y="304.40" font-size="8.6" font-weight="bold" text-anchor="end" fill="#1c1c1c" font-family="Liberation Sans" stroke="#1c1c1c" stroke-width="0.15" textLength="4.6" lengthAdjust="spacingAndGlyphs" >0</text>
<line x1="235.90" y1="301.50" x2="339.20" y2="301.50" stroke="#2a2a2a" stroke-width="1.5" stroke-linecap="butt"/>
<line x1="256.90" y1="301.50" x2="256.90" y2="306.50" stroke="#2a2a2a" stroke-width="1.2" stroke-linecap="butt"/>
<line x1="287.40" y1="301.50" x2="287.40" y2="306.50" stroke="#2a2a2a" stroke-width="1.2" stroke-linecap="butt"/>
<line x1="318.00" y1="301.50" x2="318.00" y2="306.50" stroke="#2a2a2a" stroke-width="1.2" stroke-linecap="butt"/>
<text x="285.20" y="186.90" font-size="10.5" font-weight="bold" text-anchor="middle" fill="#1c1c1c" font-family="Liberation Sans" stroke="#1c1c1c" stroke-width="0.3" textLength="30.2" lengthAdjust="spacingAndGlyphs" >TNF-α</text>
<text x="199.50" y="244.70" font-size="9.0" font-weight="bold" text-anchor="middle" fill="#1c1c1c" font-family="Liberation Sans" stroke="#1c1c1c" stroke-width="0.3" textLength="14.2" lengthAdjust="spacingAndGlyphs" transform="rotate(-90 199.50 244.70)" >MFI</text>
<line x1="406.10" y1="287.40" x2="507.60" y2="287.40" stroke="#2a2a2a" stroke-width="1.2" stroke-linecap="butt"/>
<rect x="416.40" y="284.10" width="20.60" height="15.50" fill="#000"/>
<rect x="418.15" y="285.85" width="17.10" height="12.00" fill="#000000"/>
<line x1="426.70" y1="280.90" x2="426.70" y2="284.60" stroke="#2a2a2a" stroke-width="1.0" stroke-linecap="butt"/>
<line x1="421.60" y1="280.90" x2="431.80" y2="280.90" stroke="#2a2a2a" stroke-width="1.1" stroke-linecap="butt"/>
<rect x="447.10" y="285.20" width="19.70" height="14.40" fill="#000"/>
<rect x="448.85" y="286.95" width="16.20" height="10.90" fill="#ff8000"/>
<line x1="456.95" y1="281.50" x2="456.95" y2="285.70" stroke="#2a2a2a" stroke-width="1.0" stroke-linecap="butt"/>
<line x1="451.85" y1="281.50" x2="462.05" y2="281.50" stroke="#2a2a2a" stroke-width="1.1" stroke-linecap="butt"/>
<rect x="477.00" y="217.20" width="20.60" height="47.90" fill="#000"/>
<rect x="478.75" y="218.95" width="17.10" height="46.15" fill="#0abd0a"/>
<rect x="477.00" y="273.90" width="20.60" height="25.70" fill="#000"/>
<rect x="478.75" y="273.90" width="17.10" height="23.95" fill="#0abd0a"/>
<line x1="487.30" y1="215.40" x2="487.30" y2="217.70" stroke="#2a2a2a" stroke-width="1.0" stroke-linecap="butt"/>
<line x1="482.20" y1="215.40" x2="492.40" y2="215.40" stroke="#2a2a2a" stroke-width="1.1" stroke-linecap="butt"/>
<line x1="406.10" y1="186.10" x2="406.10" y2="265.10" stroke="#2a2a2a" stroke-width="1.5" stroke-linecap="butt"/>
<line x1="403.20" y1="265.10" x2="409.00" y2="265.10" stroke="#2a2a2a" stroke-width="1.2" stroke-linecap="butt"/>
<line x1="401.50" y1="186.70" x2="406.10" y2="186.70" stroke="#2a2a2a" stroke-width="1.2" stroke-linecap="butt"/>
<text x="400.10" y="189.60" font-size="8.6" font-weight="bold" text-anchor="end" fill="#1c1c1c" font-family="Liberation Sans" stroke="#1c1c1c" stroke-width="0.12" textLength="23.0" lengthAdjust="spacingAndGlyphs" >20000</text>
<line x1="401.50" y1="207.60" x2="406.10" y2="207.60" stroke="#2a2a2a" stroke-width="1.2" stroke-linecap="butt"/>
<text x="400.10" y="210.50" font-size="8.6" font-weight="bold" text-anchor="end" fill="#1c1c1c" font-family="Liberation Sans" stroke="#1c1c1c" stroke-width="0.12" textLength="23.0" lengthAdjust="spacingAndGlyphs" >15000</text>
<line x1="401.50" y1="227.90" x2="406.10" y2="227.90" stroke="#2a2a2a" stroke-width="1.2" stroke-linecap="butt"/>
<text x="400.10" y="230.80" font-size="8.6" font-weight="bold" text-anchor="end" fill="#1c1c1c" font-family="Liberation Sans" stroke="#1c1c1c" stroke-width="0.12" textLength="23.0" lengthAdjust="spacingAndGlyphs" >10000</text>
<line x1="401.50" y1="248.90" x2="406.10" y2="248.90" stroke="#2a2a2a" stroke-width="1.2" stroke-linecap="butt"/>
<text x="400.10" y="251.80" font-size="8.6" font-weight="bold" text-anchor="end" fill="#1c1c1c" font-family="Liberation Sans" stroke="#1c1c1c" stroke-width="0.12" textLength="18.4" lengthAdjust="spacingAndGlyphs" >5000</text>
<line x1="406.10" y1="273.90" x2="406.10" y2="299.80" stroke="#2a2a2a" stroke-width="1.5" stroke-linecap="butt"/>
<line x1="403.20" y1="273.90" x2="409.00" y2="273.90" stroke="#2a2a2a" stroke-width="1.2" stroke-linecap="butt"/>
<line x1="401.50" y1="273.90" x2="406.10" y2="273.90" stroke="#2a2a2a" stroke-width="1.2" stroke-linecap="butt"/>
<text x="400.10" y="276.80" font-size="8.6" font-weight="bold" text-anchor="end" fill="#1c1c1c" font-family="Liberation Sans" stroke="#1c1c1c" stroke-width="0.12" textLength="9.2" lengthAdjust="spacingAndGlyphs" >75</text>
<line x1="401.50" y1="282.30" x2="406.10" y2="282.30" stroke="#2a2a2a" stroke-width="1.2" stroke-linecap="butt"/>
<text x="400.10" y="285.20" font-size="8.6" font-weight="bold" text-anchor="end" fill="#1c1c1c" font-family="Liberation Sans" stroke="#1c1c1c" stroke-width="0.12" textLength="9.2" lengthAdjust="spacingAndGlyphs" >50</text>
<line x1="401.50" y1="290.70" x2="406.10" y2="290.70" stroke="#2a2a2a" stroke-width="1.2" stroke-linecap="butt"/>
<text x="400.10" y="293.60" font-size="8.6" font-weight="bold" text-anchor="end" fill="#1c1c1c" font-family="Liberation Sans" stroke="#1c1c1c" stroke-width="0.12" textLength="9.2" lengthAdjust="spacingAndGlyphs" >25</text>
<line x1="401.50" y1="299.10" x2="406.10" y2="299.10" stroke="#2a2a2a" stroke-width="1.2" stroke-linecap="butt"/>
<text x="400.10" y="302.00" font-size="8.6" font-weight="bold" text-anchor="end" fill="#1c1c1c" font-family="Liberation Sans" stroke="#1c1c1c" stroke-width="0.12" textLength="4.6" lengthAdjust="spacingAndGlyphs" >0</text>
<line x1="405.40" y1="299.10" x2="508.40" y2="299.10" stroke="#2a2a2a" stroke-width="1.5" stroke-linecap="butt"/>
<line x1="426.40" y1="299.10" x2="426.40" y2="304.10" stroke="#2a2a2a" stroke-width="1.2" stroke-linecap="butt"/>
<line x1="456.90" y1="299.10" x2="456.90" y2="304.10" stroke="#2a2a2a" stroke-width="1.2" stroke-linecap="butt"/>
<line x1="487.30" y1="299.10" x2="487.30" y2="304.10" stroke="#2a2a2a" stroke-width="1.2" stroke-linecap="butt"/>
<text x="459.40" y="186.90" font-size="10.5" font-weight="bold" text-anchor="middle" fill="#1c1c1c" font-family="Liberation Sans" stroke="#1c1c1c" stroke-width="0.3" textLength="25.8" lengthAdjust="spacingAndGlyphs" >IFN-γ</text>
<text x="369.70" y="242.90" font-size="9.0" font-weight="bold" text-anchor="middle" fill="#1c1c1c" font-family="Liberation Sans" stroke="#1c1c1c" stroke-width="0.3" textLength="14.2" lengthAdjust="spacingAndGlyphs" transform="rotate(-90 369.70 242.90)" >MFI</text>
<rect x="533.30" y="191.40" width="12.60" height="6.50" fill="#000"/>
<rect x="535.20" y="193.30" width="8.80" height="2.70" fill="#000000"/>
<text x="552.30" y="197.00" font-size="9.0" font-weight="normal" text-anchor="start" fill="#262626" font-family="Liberation Sans" stroke="#262626" stroke-width="0.12" textLength="43.0" lengthAdjust="spacingAndGlyphs" >IL-10/IgG1</text>
<rect x="533.30" y="206.40" width="12.60" height="6.50" fill="#000"/>
<rect x="535.20" y="208.30" width="8.80" height="2.70" fill="#ff8000"/>
<text x="552.30" y="212.00" font-size="9.0" font-weight="normal" text-anchor="start" fill="#262626" font-family="Liberation Sans" stroke="#262626" stroke-width="0.12" textLength="49.4" lengthAdjust="spacingAndGlyphs" >TNF-a /IgG1</text>
<rect x="533.30" y="221.40" width="12.60" height="6.50" fill="#000"/>
<rect x="535.20" y="223.30" width="8.80" height="2.70" fill="#0abd0a"/>
<text x="552.30" y="227.00" font-size="9.0" font-weight="normal" text-anchor="start" fill="#262626" font-family="Liberation Sans" stroke="#262626" stroke-width="0.12" textLength="44.2" lengthAdjust="spacingAndGlyphs" >IFN-γ/IgG1</text>
</svg>
</body></html>
